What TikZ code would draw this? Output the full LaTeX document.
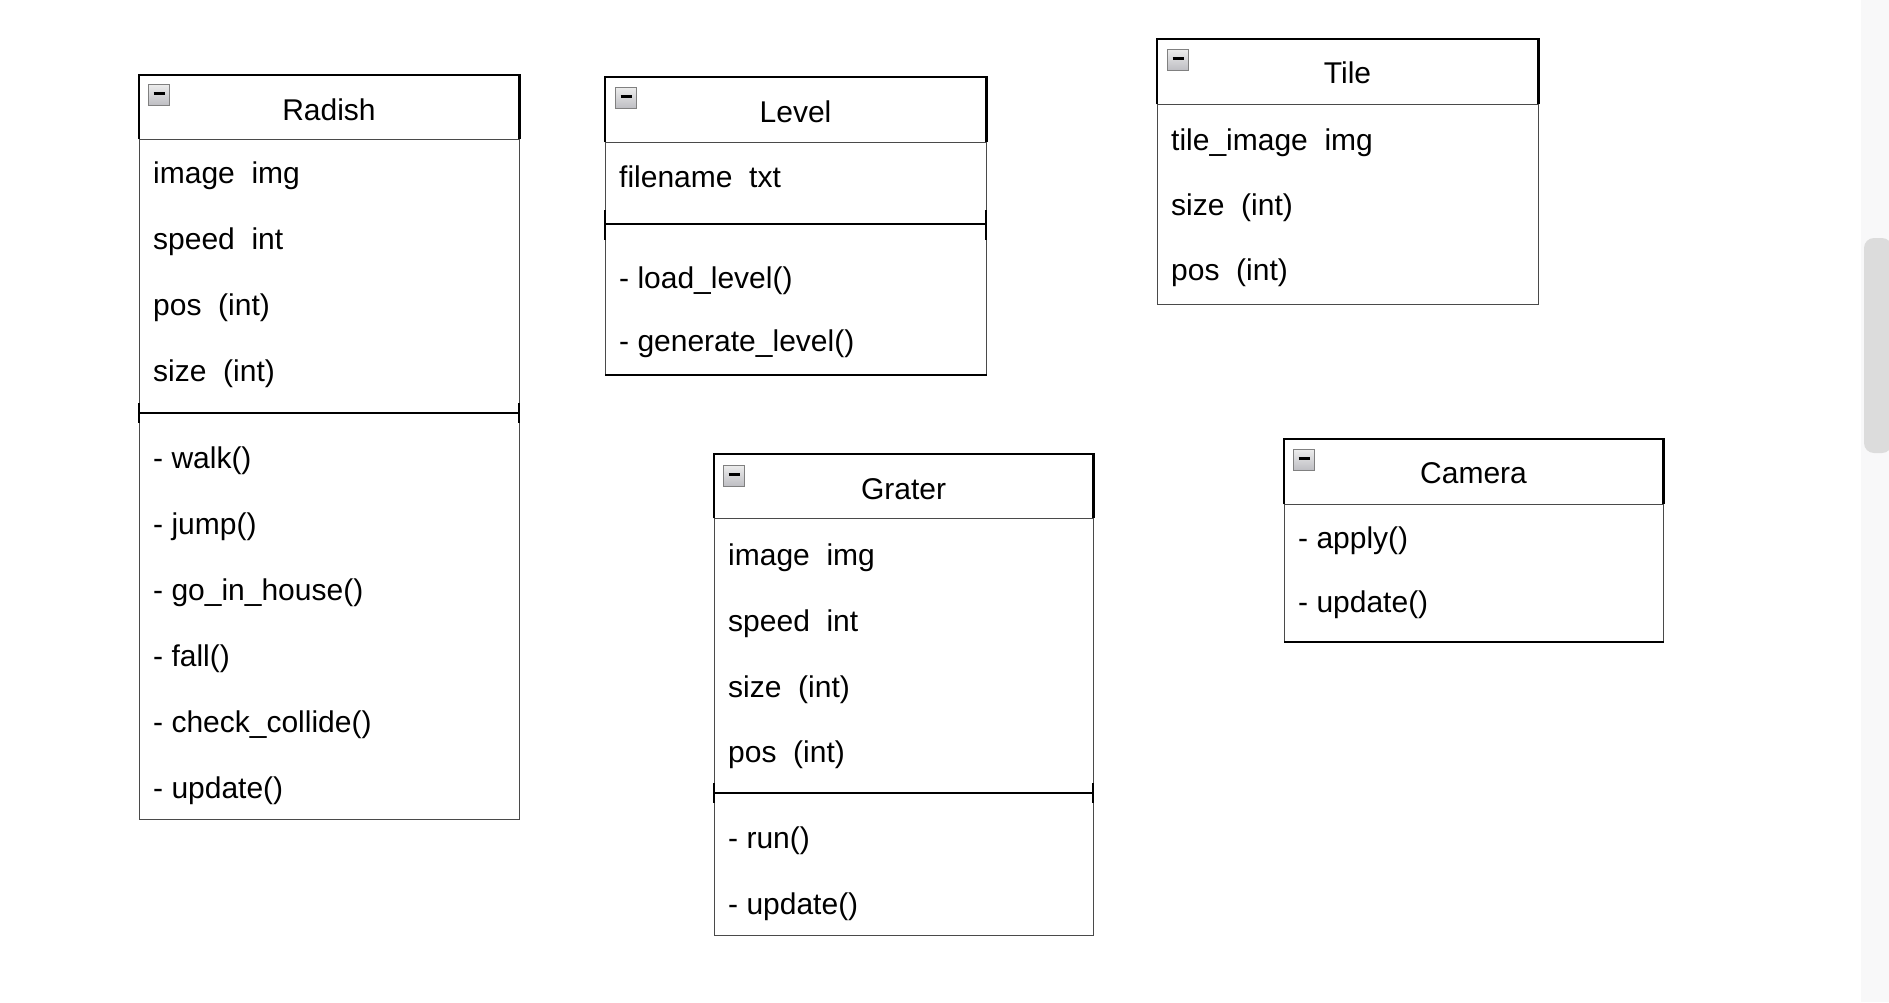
\documentclass[tikz,border=0pt]{standalone}
\usepackage{fontspec}
\setmainfont{Liberation Sans}
\definecolor{bodyline}{HTML}{4A4A4A}
\definecolor{iconborder}{HTML}{808080}
\definecolor{iconTop}{HTML}{ECECEC}
\definecolor{iconBot}{HTML}{BDBDC2}
\definecolor{trackgray}{HTML}{F8F8F9}
\definecolor{thumbgray}{HTML}{DCDCDC}
\tikzset{
  bodybox/.style={draw=bodyline, line width=1.3pt, fill=white, inner sep=0pt, anchor=north west, minimum width=380pt},
  headbox/.style={inner sep=0pt, anchor=north west, minimum width=380pt, minimum height=64pt},
  headline/.style={draw=black, line width=2.2pt, line join=miter},
  collapse/.style={draw=iconborder, line width=1pt, top color=iconTop, bottom color=iconBot, minimum size=21pt, inner sep=0pt, anchor=north west,
     path picture={\draw[black, line width=3.2pt] ([xshift=5pt,yshift=1.5pt]path picture bounding box.west) -- ([xshift=-5pt,yshift=1.5pt]path picture bounding box.east);}},
  titletext/.style={font=\fontsize{30pt}{36pt}\selectfont, anchor=base, inner sep=0pt},
  itemtext/.style={font=\fontsize{30pt}{36pt}\selectfont, anchor=base west, inner sep=0pt},
  seprule/.style={black, line width=2.5pt},
  sidetick/.style={black, line width=2.5pt},
  thickbottom/.style={black, line width=2.2pt},
}
\begin{document}
\begin{tikzpicture}[x=1pt,y=-1pt]
\useasboundingbox (0,0) rectangle (1889,1002);
\fill[white] (0,0) rectangle (1889,1002);
% scrollbar
\fill[trackgray] (1861,0) rectangle (1889,1002);
\fill[thumbgray, rounded corners=10pt] (1864,238) rectangle (1892,453);

% ---------------- Radish ----------------
\node[bodybox, minimum height=680pt] (radishBody) at (139,139) {};
\node[headbox] (radishHead) at (139,75) {};
\draw[headline] (radishHead.south west) -- (radishHead.north west) -- (radishHead.north east) -- (radishHead.south east);
\node[collapse] (radishIcon) at (148,84) {};
\node[titletext] (radishTitle) at (329,120) {Radish};
\node[itemtext] (radishA1) at (153,183.5) {image~~img};
\node[itemtext] (radishA2) at (153,249.5) {speed~~int};
\node[itemtext] (radishA3) at (153,315.5) {pos~~(int)};
\node[itemtext] (radishA4) at (153,381.5) {size~~(int)};
\coordinate (radishSepL) at (139,413);
\coordinate (radishSepR) at (519,413);
\draw[seprule] (radishSepL) -- (radishSepR);
\draw[sidetick] ([yshift=10pt]radishSepL) -- ([yshift=-10pt]radishSepL);
\draw[sidetick] ([yshift=10pt]radishSepR) -- ([yshift=-10pt]radishSepR);
\node[itemtext] (radishM1) at (153,468.5) {- walk()};
\node[itemtext] (radishM2) at (153,534.5) {- jump()};
\node[itemtext] (radishM3) at (153,600.5) {- go\_in\_house()};
\node[itemtext] (radishM4) at (153,666.5) {- fall()};
\node[itemtext] (radishM5) at (153,732.5) {- check\_collide()};
\node[itemtext] (radishM6) at (153,798.5) {- update()};

% ---------------- Level ----------------
\node[bodybox, minimum width=381pt, minimum height=232pt] (levelBody) at (605,142) {};
\node[headbox, minimum width=381pt, minimum height=65pt] (levelHead) at (605,77) {};
\draw[headline] (levelHead.south west) -- (levelHead.north west) -- (levelHead.north east) -- (levelHead.south east);
\draw[thickbottom] (levelBody.south west) -- (levelBody.south east);
\node[collapse] (levelIcon) at (615,87) {};
\node[titletext] (levelTitle) at (795.5,122) {Level};
\node[itemtext] (levelA1) at (619,187) {filename~~txt};
\coordinate (levelSepL) at (605,224);
\coordinate (levelSepR) at (986,224);
\draw[seprule] (levelSepL) -- (levelSepR);
\draw[sidetick] ([yshift=14pt]levelSepL) -- ([yshift=-16pt]levelSepL);
\draw[sidetick] ([yshift=14pt]levelSepR) -- ([yshift=-16pt]levelSepR);
\node[itemtext] (levelM1) at (619,288) {- load\_level()};
\node[itemtext] (levelM2) at (619,351) {- generate\_level()};

% ---------------- Tile ----------------
\node[bodybox, minimum width=381pt, minimum height=200pt] (tileBody) at (1157,104) {};
\node[headbox, minimum width=381pt, minimum height=65pt] (tileHead) at (1157,39) {};
\draw[headline] (tileHead.south west) -- (tileHead.north west) -- (tileHead.north east) -- (tileHead.south east);
\node[collapse] (tileIcon) at (1167,49) {};
\node[titletext] (tileTitle) at (1347.5,83) {Tile};
\node[itemtext] (tileA1) at (1171,150) {tile\_image~~img};
\node[itemtext] (tileA2) at (1171,215) {size~~(int)};
\node[itemtext] (tileA3) at (1171,280) {pos~~(int)};

% ---------------- Grater ----------------
\node[bodybox, minimum width=379pt, minimum height=417pt] (graterBody) at (714,518) {};
\node[headbox, minimum width=379pt, minimum height=64pt] (graterHead) at (714,454) {};
\draw[headline] (graterHead.south west) -- (graterHead.north west) -- (graterHead.north east) -- (graterHead.south east);
\node[collapse] (graterIcon) at (723,465) {};
\node[titletext] (graterTitle) at (903.5,499) {Grater};
\node[itemtext] (graterA1) at (728,565.5) {image~~img};
\node[itemtext] (graterA2) at (728,631.5) {speed~~int};
\node[itemtext] (graterA3) at (728,697) {size~~(int)};
\node[itemtext] (graterA4) at (728,762) {pos~~(int)};
\coordinate (graterSepL) at (714,793);
\coordinate (graterSepR) at (1093,793);
\draw[seprule] (graterSepL) -- (graterSepR);
\draw[sidetick] ([yshift=10pt]graterSepL) -- ([yshift=-10pt]graterSepL);
\draw[sidetick] ([yshift=10pt]graterSepR) -- ([yshift=-10pt]graterSepR);
\node[itemtext] (graterM1) at (728,848) {- run()};
\node[itemtext] (graterM2) at (728,914) {- update()};

% ---------------- Camera ----------------
\node[bodybox, minimum width=379pt, minimum height=137pt] (cameraBody) at (1284,504) {};
\node[headbox, minimum width=379pt, minimum height=65pt] (cameraHead) at (1284,439) {};
\draw[headline] (cameraHead.south west) -- (cameraHead.north west) -- (cameraHead.north east) -- (cameraHead.south east);
\draw[thickbottom] (cameraBody.south west) -- (cameraBody.south east);
\node[collapse] (cameraIcon) at (1293,449) {};
\node[titletext] (cameraTitle) at (1473.5,483) {Camera};
\node[itemtext] (cameraM1) at (1298,548) {- apply()};
\node[itemtext] (cameraM2) at (1298,612.5) {- update()};
\end{tikzpicture}
\end{document}
